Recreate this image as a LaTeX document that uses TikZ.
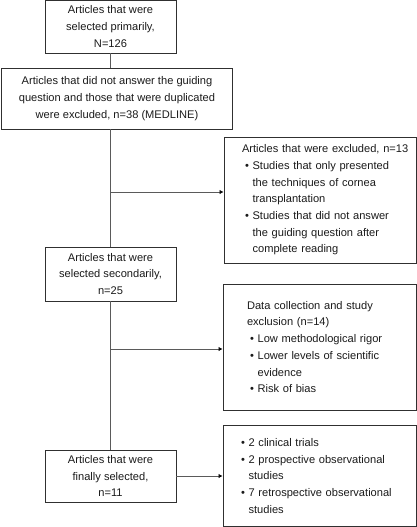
\documentclass[tikz,border=0pt]{standalone}
\usepackage{fontspec}
\setmainfont{Liberation Sans}
\usetikzlibrary{arrows.meta}
\definecolor{linegray}{HTML}{5A5A5A}
\definecolor{boxgray}{HTML}{303030}
\definecolor{textgray}{HTML}{1A1A1A}
\newcommand{\bul}{\hspace*{3pt}\textbullet\ }
\newcommand{\ind}{\hspace*{3pt}\hphantom{\textbullet\ }}

\begin{document}
\begin{tikzpicture}[->, >={Latex[length=4pt, width=4.5pt, color=black]}, main node/.style={rectangle, draw=boxgray, line width=0.9pt, text=textgray, align=center, inner sep=0pt, minimum width=131pt}, list node/.style={rectangle, draw=boxgray, line width=0.9pt, text=textgray, align=left, inner ysep=0pt}]
        \tikzstyle{every node}=[font=\fontsize{11.1}{16.7}\selectfont]
        \useasboundingbox (0,0) rectangle (417pt,-527pt);

          \node[main node, minimum height=53pt] (1) at (110.5pt,-26.5pt) {Articles that were\\selected primarily,\\N=126};
          \node[main node, minimum width=231pt, minimum height=61pt] (2) [node distance=72pt, below of=1, xshift=6.5pt] {Articles that did not answer the guiding\\question and those that were duplicated\\were excluded, n=38 (MEDLINE)};
          \node[main node, minimum height=54pt] (4) [node distance=247.5pt, below of=1] {Articles that were\\selected secondarily,\\n=25};
          \node[main node, minimum height=52pt] (6) [node distance=202pt, below of=4] {Articles that were\\finally selected,\\n=11};

          \node[list node, text width=163pt, inner xsep=15pt, minimum height=101pt] (7) [node distance=209pt, right of=6] {\bul 2 clinical trials\\\bul 2 prospective observational\\\ind studies\\\bul 7 retrospective observational\\\ind studies};
          \node[list node, text width=145pt, inner xsep=24pt, minimum height=126pt] (5) [node distance=129pt, above of=7] {Data collection and study\\exclusion (n=14)\\\bul Low methodological rigor\\\bul Lower levels of scientific\\\ind evidence\\\bul Risk of bias};
          \node[list node, text width=156pt, inner xsep=18pt, minimum height=126pt] (3) [node distance=147pt, above of=5, xshift=0.5pt] {\mbox{Articles that were excluded, n=13}\\\bul Studies that only presented\\\ind the techniques of cornea\\\ind transplantation\\\bul Studies that did not answer\\\ind the guiding question after\\\ind complete reading};

          \coordinate (a3) at ([yshift=8pt]3.west);
          \coordinate (a5) at ([yshift=-2pt]5.west);

          \path[linegray, line width=0.8pt]
            (1) edge[-] (1 |- 2.north)
            (2.south -| 1) edge[-] (4)
            (4) edge[-] (6)
            (a3 -| 4) edge (a3)
            (a5 -| 4) edge (a5)
            (6) edge (7);

        \end{tikzpicture}
\end{document}
